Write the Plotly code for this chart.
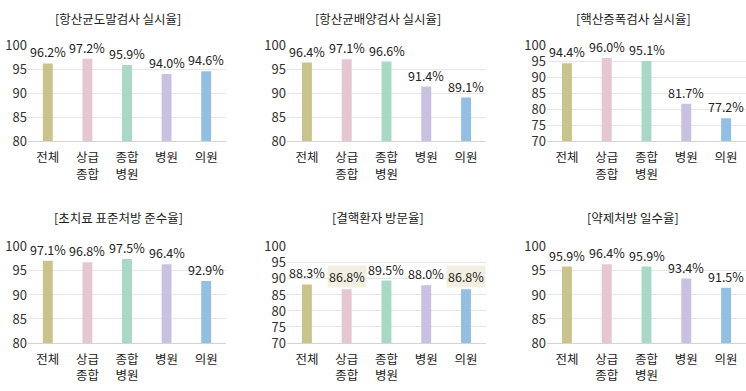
import plotly.graph_objects as go

categories = ["전체", "상급종합", "종합병원", "병원", "의원"]
tick_labels = ["전체", "상급<br>종합", "종합<br>병원", "병원", "의원"]
colors = ["#c9c38c", "#e6c6d0", "#a9d9c6", "#c8c1e1", "#93bfe2"]

titles = ["[항산균도말검사 실시율]", "[항산균배양검사 실시율]", "[핵산증폭검사 실시율]",
          "[초치료 표준처방 준수율]", "[결핵환자 방문율]", "[약제처방 일수율]"]

smear = [96.2, 97.2, 95.9, 94.0, 94.6]
culture = [96.4, 97.1, 96.6, 91.4, 89.1]
naat = [94.4, 96.0, 95.1, 81.7, 77.2]
standard_rx = [97.1, 96.8, 97.5, 96.4, 92.9]
visit_rate = [88.3, 86.8, 89.5, 88.0, 86.8]
rx_days = [95.9, 96.4, 95.9, 93.4, 91.5]

series = [smear, culture, naat, standard_rx, visit_rate, rx_days]
y_ranges = [(80, 100), (80, 100), (70, 100), (80, 100), (70, 100), (80, 100)]
highlight = {4: [1, 4]}

W, H = 746, 391
x_dom_px = [(28, 226), (287, 486), (547, 746)]
y_dom_px = [(37, 138), (249, 350)]
title_x = [118, 378, 633]
title_y = [9, 218]

FONT = "Noto Sans CJK KR"
fig = go.Figure()
annotations = []
layout = {}

for i, vals in enumerate(series):
    r, c = divmod(i, 3)
    n = i + 1
    xa = "x" if n == 1 else f"x{n}"
    ya = "y" if n == 1 else f"y{n}"
    fig.add_trace(go.Bar(
        x=categories, y=vals, xaxis=xa, yaxis=ya,
        marker=dict(color=colors, line=dict(width=0)),
        hoverinfo="skip", showlegend=False,
    ))
    x0, x1 = x_dom_px[c]
    y0, y1 = y_dom_px[r]
    lo, hi = y_ranges[i]
    layout["xaxis" if n == 1 else f"xaxis{n}"] = dict(
        domain=[x0 / W, x1 / W], anchor=ya, type="category",
        tickmode="array", tickvals=categories, ticktext=tick_labels,
        showgrid=False, showline=True, linecolor="#d4d4d4", linewidth=1,
        ticks="", ticklabelstandoff=5,
        tickfont=dict(family=FONT, size=12.5, color="#222"),
        fixedrange=True,
    )
    layout["yaxis" if n == 1 else f"yaxis{n}"] = dict(
        domain=[1 - y1 / H, 1 - y0 / H], anchor=xa,
        range=[lo, hi], dtick=5, tick0=lo,
        showgrid=True, gridcolor="#e6e6e6", gridwidth=1,
        zeroline=False, showline=False, ticks="",
        tickfont=dict(family=FONT, size=13, color="#333"),
        fixedrange=True,
    )
    for j, v in enumerate(vals):
        hl = j in highlight.get(i, [])
        annotations.append(dict(
            x=categories[j], y=v, xref=xa, yref=ya,
            text=f"{v:.1f}%", showarrow=False,
            yanchor="bottom", yshift=1,
            font=dict(family=FONT, size=12.5, color="#222"),
            bgcolor="#f2efe1" if hl else "rgba(0,0,0,0)",
            borderpad=1 if hl else 0,
        ))
    annotations.append(dict(
        x=title_x[c] / W, y=1 - title_y[r] / H, xref="paper", yref="paper",
        text=titles[i], showarrow=False, xanchor="center", yanchor="middle",
        font=dict(family=FONT, size=12.5, color="#222"),
    ))

fig.update_layout(
    width=W, height=H, autosize=False,
    margin=dict(l=0, r=0, t=0, b=0),
    paper_bgcolor="white", plot_bgcolor="white",
    bargap=0.75,
    annotations=annotations,
    **layout,
)

post = (
    "document.body.style.margin='0';document.body.style.overflow='hidden';"
    "var d=document.getElementById('{plot_id}');"
    "d.style.position='fixed';d.style.top='0px';d.style.left='0px';"
)
fig.write_html(
    "out.html",
    config={"displayModeBar": False, "staticPlot": True},
    post_script=post,
)
